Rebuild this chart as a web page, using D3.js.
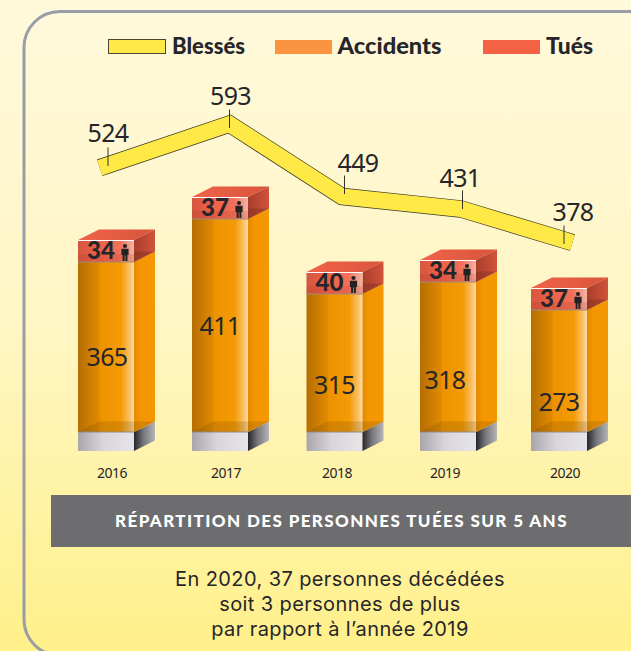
<!DOCTYPE html>
<html><head><meta charset="utf-8">
<script src="https://cdn.jsdelivr.net/npm/d3@7"></script>
<style>html,body{margin:0;padding:0;overflow:hidden}svg{display:block}text{font-family:"Noto Sans",sans-serif;fill:#26262a}.lat{font-family:"Lato",sans-serif}.int{font-family:"Inter",sans-serif}</style>
</head><body><svg id="c" width="631" height="651"></svg>
<script>
const years=[2016,2017,2018,2019,2020];
const blesses=[524,593,449,431,378];
const accidents=[365,411,315,318,273];
const tues=[34,37,40,34,37];
const legendLabels=["Blessés","Accidents","Tués"];
const bannerText="RÉPARTITION DES PERSONNES TUÉES SUR 5 ANS";
const noteLines=["En 2020, 37 personnes décédées","soit 3 personnes de plus","par rapport à l’année 2019"];

const svg=d3.select("#c"),W=631,H=651;
const defs=svg.append("defs");
function grad(id,stops,vert){
  const g=defs.append("linearGradient").attr("id",id).attr("x1",0).attr("y1",0)
    .attr("x2",vert?0:1).attr("y2",vert?1:0);
  stops.forEach(s=>g.append("stop").attr("offset",s[0]).attr("stop-color",s[1]));
}
grad("bg",[[0,"#fff9dc"],[.5,"#fff6c4"],[1,"#fff08a"]],true);
grad("front",[[0,"#b56e02"],[.38,"#e18a00"],[.39,"#ee9300"],[.76,"#f39a05"],[.92,"#fabf62"],[1,"#fddcae"]]);
grad("side",[[0,"#e58a00"],[.3,"#f39600"],[1,"#f49700"]]);
grad("red",[[0,"#d4573f"],[.35,"#ee5f47"],[.75,"#f2705a"],[1,"#f4b4a6"]]);
grad("redTop",[[0,"#f0634a"],[1,"#d8553c"]]);
grad("redSide",[[0,"#a83e2a"],[1,"#d2533b"]]);
grad("baseF",[[0,"#a9a6ab"],[.45,"#d8d6da"],[1,"#e7e5ea"]]);
grad("baseS",[[0,"#26252a"],[.45,"#77767b"],[1,"#b5b4b8"]]);

svg.append("rect").attr("width",W).attr("height",H).attr("fill","url(#bg)");
svg.append("rect").attr("x",24).attr("y",11.5).attr("width",W+60).attr("height",644).attr("rx",36)
  .attr("fill","none").attr("stroke","#9a9ca6").attr("stroke-width",3);

// scales (the source chart is not drawn to a linear scale)
const xFront=d3.scaleLinear().domain(years).range([78,192,306.5,420,531]);
const barW=56,depthX=21,depthY=-10.5;
const baseTop=432,baseH=19;
const hAcc=d3.scaleLinear().domain([273,315,318,365,411]).range([122,138,150,170,213]);
const hTue=d3.scaleLinear().domain([34,40]).range([22,22]);
const xLine=d3.scaleLinear().domain(years).range([108,229.5,342,461,564]);
const yLine=d3.scaleLinear().domain([378,431,449,524,593]).range([240,209,196.5,165,124]);
const yTick=d3.scaleLinear().domain([378,431,449,524,593]).range([244,209,194,166,128]);
const xYear=d3.scaleLinear().domain(years).range([112,226,337,445,565]);
const tickDx=[0,0,2.5,1.5,0];
const lblDx=[0,1,16,-1,9], lblY=[142,105,172,187,221];
const accFrac=[.56,.5,.66,.65,.75], accDx=[1,0,0,-3,0];

const rows=years.map((y,i)=>({year:y,acc:accidents[i],tue:tues[i],i}));
const poly=p=>p.map(d=>d.join(",")).join(" ");
const g=svg.selectAll("g.bar").data(rows).join("g").attr("class","bar")
  .attr("transform",d=>`translate(${xFront(d.year)},0)`);

// base
g.append("rect").attr("y",baseTop).attr("width",barW).attr("height",baseH).attr("fill","url(#baseF)");
g.append("polygon").attr("points",poly([[barW,baseTop],[barW+depthX,baseTop+depthY],[barW+depthX,baseTop+baseH+depthY],[barW,baseTop+baseH]])).attr("fill","url(#baseS)");
// orange
g.append("rect").attr("y",d=>baseTop-hAcc(d.acc)).attr("width",barW).attr("height",d=>hAcc(d.acc)).attr("fill","url(#front)");
g.append("polygon").attr("points",d=>{const t=baseTop-hAcc(d.acc);
  return poly([[barW,t],[barW+depthX,t+depthY],[barW+depthX,baseTop+depthY],[barW,baseTop]]);}).attr("fill","url(#side)");
g.append("polygon").attr("points",poly([[0,baseTop],[depthX,baseTop+depthY],[barW+depthX,baseTop+depthY],[barW,baseTop]])).attr("fill","#6b3f00").attr("opacity",.2);
g.append("line").attr("x1",0).attr("x2",barW).attr("y1",baseTop).attr("y2",baseTop).attr("stroke","#8f8a86");
// red
const redTop=d=>baseTop-hAcc(d.acc)-hTue(d.tue), redBot=d=>baseTop-hAcc(d.acc);
g.append("polygon").attr("points",d=>poly([[0,redTop(d)],[depthX,redTop(d)+depthY],[barW+depthX,redTop(d)+depthY],[barW,redTop(d)]])).attr("fill","url(#redTop)");
g.append("polygon").attr("points",d=>poly([[barW,redTop(d)],[barW+depthX,redTop(d)+depthY],[barW+depthX,redBot(d)+depthY],[barW,redBot(d)]])).attr("fill","url(#redSide)");
g.append("polygon").attr("points",d=>poly([[barW,redBot(d)],[barW+depthX,redBot(d)+depthY],[barW,redBot(d)+depthY]])).attr("fill","#7a2c1e").attr("opacity",.4);
g.append("rect").attr("y",redTop).attr("width",barW).attr("height",d=>hTue(d.tue)).attr("fill","url(#red)");
g.append("rect").attr("y",d=>redBot(d)-8).attr("width",barW).attr("height",8).attr("fill","#a83a28").attr("opacity",.18);
g.append("line").attr("x1",0).attr("x2",barW).attr("y1",d=>redTop(d)+.5).attr("y2",d=>redTop(d)+.5).attr("stroke","#fff").attr("stroke-width",1);
g.append("line").attr("x1",0).attr("x2",barW).attr("y1",d=>redBot(d)).attr("y2",d=>redBot(d)).attr("stroke","#a08c78").attr("stroke-width",1.2);
// labels
g.append("text").attr("class","lat").text(d=>d.tue).attr("x",23).attr("y",d=>redBot(d)-3).attr("text-anchor","middle")
  .attr("font-size",24).attr("font-weight",900);
const person=g.append("g").attr("transform",d=>`translate(47,${redTop(d)+4})`);
person.append("circle").attr("cx",0).attr("cy",2).attr("r",2.1).attr("fill","#222");
person.append("path").attr("d","M-3.6 4.8H3.6V11H2.4V17H0.4V11.5H-0.4V17H-2.4V11H-3.6Z").attr("fill","#222");
g.append("text").text(d=>d.acc).attr("x",d=>barW/2+accDx[d.i])
  .attr("y",d=>redBot(d)+hAcc(d.acc)*accFrac[d.i]+9).attr("text-anchor","middle").attr("font-size",25).attr("letter-spacing",-.7);

// ribbon
const pts=blesses.map((v,i)=>[xLine(years[i]),yLine(v)]);
function ext(a,b,l){const dx=a[0]-b[0],dy=a[1]-b[1],n=Math.hypot(dx,dy);return [a[0]+dx/n*l,a[1]+dy/n*l];}
const ribbon=[ext(pts[0],pts[1],8.8),...pts,ext(pts[4],pts[3],8.8)];
const lineGen=d3.line();
svg.append("path").attr("d",lineGen(ribbon)).attr("fill","none").attr("stroke","#3a3826").attr("stroke-width",17.4).attr("stroke-miterlimit",10);
svg.append("path").attr("d",lineGen(ribbon)).attr("fill","none").attr("stroke","#ffe947").attr("stroke-width",16).attr("stroke-miterlimit",10);
svg.selectAll("line.t").data(blesses).join("line").attr("class","t")
  .attr("x1",(v,i)=>xLine(years[i])+tickDx[i]).attr("x2",(v,i)=>xLine(years[i])+tickDx[i])
  .attr("y1",v=>yTick(v)-18.5).attr("y2",v=>yTick(v)).attr("stroke","#33322a").attr("stroke-width",1);
svg.selectAll("text.bl").data(blesses).join("text").attr("class","bl").text(v=>v)
  .attr("x",(v,i)=>xLine(years[i])+lblDx[i]).attr("y",(v,i)=>lblY[i]).attr("text-anchor","middle").attr("font-size",25).attr("letter-spacing",-.7);

// years
svg.selectAll("text.yr").data(years).join("text").attr("class","yr").text(d=>d)
  .attr("x",d=>xYear(d)).attr("y",478).attr("text-anchor","middle").attr("font-size",14).attr("letter-spacing",-.5);

// legend
const legX=[108,275,483],legTx=[172,337.5,546],legC=["#ffe947","#fb9341","#f46246"];
legendLabels.forEach((t,i)=>{
  svg.append("rect").attr("x",legX[i]+(i==0?.5:0)).attr("y",39.5+(i?.5:0)).attr("width",57).attr("height",14)
    .attr("fill",legC[i]).attr("stroke",i==0?"#4a4630":"none");
  svg.append("text").attr("class","lat").text(t).attr("x",legTx[i]).attr("y",54).attr("font-size",23).attr("font-weight",900)
    .attr("textLength",[73,104,47][i]).attr("lengthAdjust","spacingAndGlyphs");
});

// banner
svg.append("rect").attr("x",51).attr("y",495).attr("width",W-51).attr("height",52).attr("fill","#6d6d70");
svg.append("text").attr("class","lat").text(bannerText).attr("x",341.5).attr("y",527).attr("text-anchor","middle")
  .attr("font-size",17).attr("font-weight",900).attr("letter-spacing",1.4).style("fill","#fff");
noteLines.forEach((t,i)=>svg.append("text").attr("class","int").text(t).attr("x",340).attr("y",[586,611,636][i]).attr("text-anchor","middle").attr("font-size",20).attr("letter-spacing",.4));
</script></body></html>
